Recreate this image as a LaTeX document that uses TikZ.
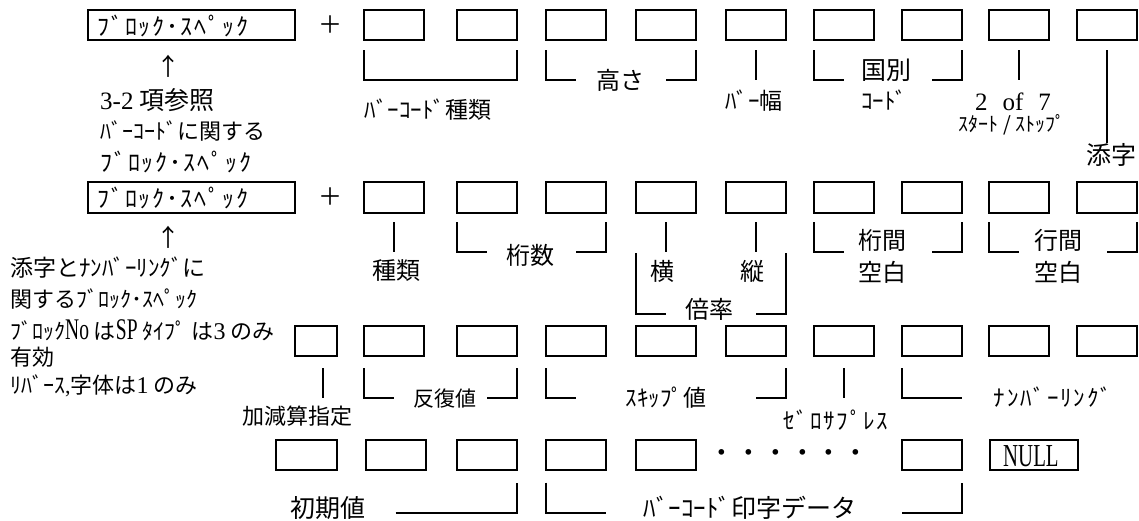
\documentclass[tikz,border=0pt]{standalone}
\usepackage{fontspec}
\setmainfont{Liberation Serif}
\newfontfamily\cjk{Noto Sans CJK JP}
\newfontfamily\nser[FakeStretch=0.65]{Liberation Serif}
\tikzset{
  bx/.style={draw, line width=2pt, minimum width=60pt, minimum height=30pt, inner sep=0pt, outer sep=0pt},
  ln/.style={line width=2pt},
  jp/.style={font=\cjk\fontsize{#1}{#1}\selectfont, inner sep=0pt},
  jp/.default=24,
  hw/.style={font=\cjk\fontsize{#1}{#1}\selectfont\addfontfeatures{LetterSpace=8}, inner sep=0pt},
  hw/.default=24,
}
\begin{document}
\begin{tikzpicture}[x=1pt,y=-1pt]
\fill[white] (0,0) rectangle (1139,520);
\useasboundingbox (0,0) rectangle (1139,520);
\def\cols{394,486.5,576,665.5,755.5,843.5,932,1019,1107}
% ---------- row 1
\node[bx, minimum width=207pt] (r1s) at (191.5,25) {};
\node[hw, anchor=west] (r1st) at (97,26) {ﾌﾞﾛｯｸ･ｽﾍﾟｯｸ};
\node[jp] (r1p) at (330,25) {＋};
\foreach \x [count=\i] in \cols { \node[bx] (r1b\i) at (\x,25) {}; }
\draw[ln] ([yshift=-10pt]r1b1.south west) |- ([yshift=-40pt]r1b2.south east) -- ([yshift=-10pt]r1b2.south east);
\node[jp=23] (lbct) at (428,110) {ﾊﾞｰｺｰﾄﾞ種類};
\draw[ln] ([yshift=-10pt]r1b3.south west) |- ([yshift=-40pt]r1b3.south);
\draw[ln] ([yshift=-10pt]r1b4.south east) |- ([yshift=-40pt]r1b4.south);
\node[jp] (lh) at (620,80) {高さ};
\draw[ln] ([yshift=-10pt]r1b5.south) -- ([yshift=-40pt]r1b5.south);
\node[jp=23] (lbw) at (754,101) {ﾊﾞｰ幅};
\draw[ln] ([yshift=-10pt]r1b6.south west) |- ([yshift=-40pt]r1b6.south);
\draw[ln] ([yshift=-10pt]r1b7.south east) |- ([yshift=-40pt]r1b7.south);
\node[jp=25] (lkb) at (886,70) {国別};
\node[jp=23] (lcd) at (884,100) {ｺｰﾄﾞ};
\draw[ln] ([yshift=-10pt]r1b8.south) -- ([yshift=-40pt]r1b8.south);
\node[font=\fontsize{25}{25}\selectfont, inner sep=0pt] (l27) at (1013,102) {2\hspace{15pt}of\hspace{15pt}7};
\node[jp=20] (lss) at (1012,125) {ｽﾀｰﾄ / ｽﾄｯﾌﾟ};
\node[jp=25] (lsj) at (1111,155) {添字};
\draw[ln] ([yshift=-10pt]r1b9.south) -- (r1b9.south |- lsj.north);
% left 1
\node[jp] (a1) at (168,66) {↑};
\node[jp=25, anchor=west] (t1a) at (100,100) {{\rmfamily 3-2} 項参照};
\node[jp=22, anchor=west] (t1b) at (100,131) {ﾊﾞｰｺｰﾄﾞに関する};
\node[hw, anchor=west] (t1c) at (100,162) {ﾌﾞﾛｯｸ･ｽﾍﾟｯｸ};
% ---------- row 2
\node[bx, minimum width=207pt, minimum height=31pt] (r2s) at (191.5,197.5) {};
\node[hw, anchor=west] (r2st) at (97,198) {ﾌﾞﾛｯｸ･ｽﾍﾟｯｸ};
\node[jp] (r2p) at (330,197) {＋};
\foreach \x [count=\i] in \cols { \node[bx, minimum height=31pt] (r2b\i) at (\x,197.5) {}; }
\node[jp] (lsr) at (396,271) {種類};
\draw[ln] ([yshift=-9pt]r2b1.south) -- ([yshift=-39pt]r2b1.south);
\draw[ln] ([yshift=-9pt]r2b2.south west) |- ([yshift=-39pt]r2b2.south);
\draw[ln] ([yshift=-9pt]r2b3.south east) |- ([yshift=-39pt]r2b3.south);
\node[jp] (lks) at (530,255) {桁数};
\node[jp] (lyo) at (662,271) {横};
\node[jp] (lta) at (752,271) {縦};
\draw[ln] ([yshift=-9pt]r2b4.south) -- ([yshift=-39pt]r2b4.south);
\draw[ln] ([yshift=-9pt]r2b5.south) -- ([yshift=-39pt]r2b5.south);
\draw[ln] ([yshift=-40pt]r2b4.south west) |- ([yshift=-101pt]r2b4.south);
\draw[ln] ([yshift=-40pt]r2b5.south east) |- ([yshift=-101pt]r2b5.south);
\node[jp] (lbr) at (709,309) {倍率};
\draw[ln] ([yshift=-9pt]r2b6.south west) |- ([yshift=-39pt]r2b6.south);
\draw[ln] ([yshift=-9pt]r2b7.south east) |- ([yshift=-39pt]r2b7.south);
\node[jp] (lkk) at (882,240) {桁間};
\node[jp] (lkh) at (882,272) {空白};
\draw[ln] ([yshift=-9pt]r2b8.south west) |- ([yshift=-39pt]r2b8.south);
\draw[ln] ([yshift=-9pt]r2b9.south east) |- ([yshift=-39pt]r2b9.south);
\node[jp] (lgk) at (1058,240) {行間};
\node[jp] (lgh) at (1058,272) {空白};
% left 2
\node[jp] (a2) at (168,237) {↑};
\node[jp=23, anchor=west] (t2a) at (10,268) {添字とﾅﾝﾊﾞｰﾘﾝｸﾞに};
\node[jp=22, anchor=west] (t2b) at (10,299) {関するﾌﾞﾛｯｸ･ｽﾍﾟｯｸ};
\node[jp=22, anchor=west] (t2c) at (10,330) {ﾌﾞﾛｯｸ{\nser\fontsize{30}{30}\selectfont No} は{\nser\fontsize{30}{30}\selectfont SP} ﾀｲﾌﾟ は{\rmfamily\fontsize{24}{24}\selectfont 3} のみ};
\node[jp=22, anchor=west] (t2d) at (10,357) {有効};
\node[jp=22, anchor=west] (t2e) at (10,386) {ﾘﾊﾞｰｽ{\rmfamily ,}字体は{\rmfamily\fontsize{24}{24}\selectfont 1} のみ};
% ---------- row 3
\node[bx, minimum width=42pt] (r3b0) at (316,341) {};
\foreach \x [count=\i] in \cols { \node[bx] (r3b\i) at (\x,341) {}; }
\draw[ln] ([xshift=7pt,yshift=-12pt]r3b0.south) -- ([xshift=7pt,yshift=-42pt]r3b0.south);
\node[jp=22] (lkg) at (297,416) {加減算指定};
\draw[ln] ([yshift=-12pt]r3b1.south west) |- ([yshift=-42pt]r3b1.south);
\draw[ln] ([yshift=-12pt]r3b2.south east) |- ([yshift=-42pt]r3b2.south);
\node[jp=21] (lhf) at (445,399) {反復値};
\draw[ln] ([yshift=-12pt]r3b3.south west) |- ([yshift=-42pt]r3b3.south);
\draw[ln] ([yshift=-12pt]r3b5.south east) |- ([yshift=-42pt]r3b5.south);
\node[jp=23] (lsk) at (666,398) {ｽｷｯﾌﾟ値};
\draw[ln] ([yshift=-12pt]r3b6.south) -- ([yshift=-42pt]r3b6.south);
\node[hw=23] (lzs) at (836,420) {ｾﾞﾛｻﾌﾟﾚｽ};
\draw[ln] ([yshift=-12pt]r3b7.south west) |- ([yshift=-42pt]r3b7.south east);
\node[hw=23] (lnb) at (1053,397) {ﾅﾝﾊﾞｰﾘﾝｸﾞ};
% ---------- row 4
\node[bx, minimum width=61pt] (r4b1) at (306.5,454.5) {};
\node[bx] (r4b2) at (395.5,454.5) {};
\node[bx] (r4b3) at (486.5,454.5) {};
\node[bx] (r4b4) at (576,454.5) {};
\node[bx] (r4b5) at (665.5,454.5) {};
\node[jp=26.7] (dots) at (789,456) {・・・・・・};
\node[bx] (r4b6) at (932,454.5) {};
\node[bx, minimum width=88pt] (nullbx) at (1034,454.5) {};
\node[font=\nser\fontsize{32}{32}\selectfont, inner sep=0pt, anchor=west] (nullt) at (1003,456) {NULL};
\draw[ln] ([yshift=-43pt]r4b2.south) -| ([yshift=-13pt]r4b3.south east);
\node[jp=25] (lsk2) at (328,508) {初期値};
\draw[ln] ([yshift=-13pt]r4b4.south west) |- ([yshift=-43pt]r4b4.south east);
\draw[ln] ([yshift=-43pt]r4b6.south west) -| ([yshift=-13pt]r4b6.south east);
\node[jp=25] (lbd) at (750,508) {ﾊﾞｰｺｰﾄﾞ印字データ};
\end{tikzpicture}
\end{document}
